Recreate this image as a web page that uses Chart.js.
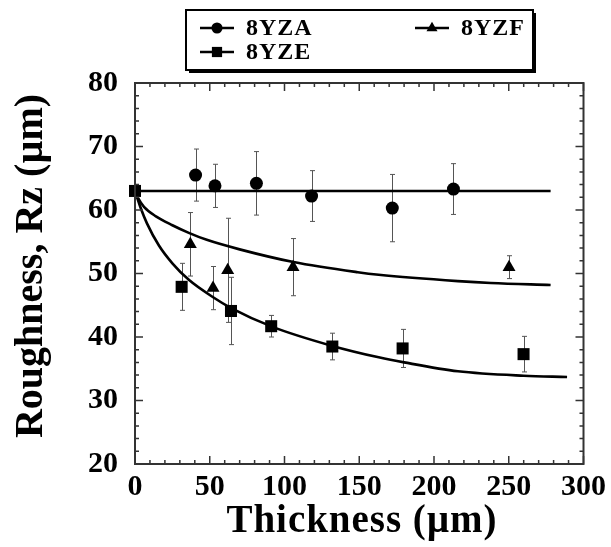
<!DOCTYPE html>
<html lang="en">
<head>
<meta charset="UTF-8">
<title>Roughness vs Thickness</title>
<script src="https://cdn.jsdelivr.net/npm/chart.js@4.4.0/dist/chart.umd.min.js"></script>
<style>
    * { margin: 0; padding: 0; box-sizing: border-box; }
    body { background: #fff; width: 611px; height: 547px; overflow: hidden; }
    #wrap { position: relative; width: 611px; height: 547px; }
</style>
</head>
<body>
<div id="wrap"><canvas id="chart"></canvas></div>
<script>
const SERIF = "'Liberation Serif', 'Times New Roman', serif";

// axis ticks
const xTicks = [0, 50, 100, 150, 200, 250, 300];
const yTicks = [20, 30, 40, 50, 60, 70, 80];
const xMinorStep = 10;
const yMinorStep = 2;

// measured points: thickness (um), Rz (um), half height of error bar
const zaX = [40.5, 53.5, 81.2, 118.1, 172.1, 213.0];
const zaY = [65.5, 63.8, 64.2, 62.2, 60.3, 63.3];
const zaErr = [4.1, 3.4, 5.0, 4.0, 5.3, 4.0];

const zeX = [0, 31.2, 64.2, 91.1, 132.0, 179.0, 259.9];
const zeY = [63.0, 47.9, 44.1, 41.7, 38.5, 38.2, 37.3];
const zeErr = [0, 3.7, 5.3, 1.7, 2.1, 3.0, 2.8];

const zfX = [37.0, 52.2, 62.0, 105.7, 250.2];
const zfY = [54.6, 47.7, 50.5, 51.0, 51.0];
const zfErr = [5.0, 3.4, 8.2, 4.5, 1.8];

// fitted curves
const zaFitX = [0, 278];
const zaFitY = [63.0, 63.0];
const zeFitX = [0, 4, 8, 16, 25, 36, 52, 64, 92, 132, 163, 180, 216, 260, 289];
const zeFitY = [63.0, 60.2, 57.9, 54.4, 51.6, 49.0, 46.3, 44.6, 41.6, 38.6, 36.8, 36.0, 34.6, 33.9, 33.7];
const zfFitX = [0, 2, 6, 14, 25, 36, 48, 70, 106, 149, 163, 216, 238, 278];
const zfFitY = [63.0, 61.9, 60.5, 59.0, 57.6, 56.4, 55.3, 53.8, 51.8, 50.2, 49.8, 48.8, 48.5, 48.2];

const pts = (xs, ys) => xs.map((x, i) => ({ x: x, y: ys[i] }));

const markerSets = [
    { label: '8YZA', data: pts(zaX, zaY), err: zaErr, pointStyle: 'circle', pointRadius: 6.5 },
    { label: '8YZE', data: pts(zeX, zeY), err: zeErr, pointStyle: 'rect', pointRadius: 8.5 },
    { label: '8YZF', data: pts(zfX, zfY), err: zfErr, pointStyle: 'triangle', pointRadius: 7.5 }
];

const fitSets = [
    { data: pts(zaFitX, zaFitY) },
    { data: pts(zeFitX, zeFitY) },
    { data: pts(zfFitX, zfFitY) }
];

const datasets = [];
fitSets.forEach(f => datasets.push({
    type: 'line',
    data: f.data,
    borderColor: '#000',
    borderWidth: 2.6,
    pointRadius: 0,
    cubicInterpolationMode: 'monotone',
    fill: false,
    clip: false,
    order: 2
}));
markerSets.forEach(m => datasets.push({
    type: 'scatter',
    label: m.label,
    data: m.data,
    err: m.err,
    pointStyle: m.pointStyle,
    pointRadius: m.pointRadius,
    pointHoverRadius: m.pointRadius,
    backgroundColor: '#000',
    borderColor: '#000',
    borderWidth: 0,
    clip: false,
    order: 1
}));

// error bars under the markers
const errorBars = {
    id: 'errorBars',
    beforeDatasetsDraw(chart) {
        const ctx = chart.ctx, xs = chart.scales.x, ys = chart.scales.y;
        ctx.save();
        ctx.strokeStyle = '#555';
        ctx.lineWidth = 1;
        chart.data.datasets.forEach(ds => {
            if (!ds.err) return;
            ds.data.forEach((p, i) => {
                const e = ds.err[i];
                if (!e) return;
                const px = Math.round(xs.getPixelForValue(p.x)) + 0.5;
                const top = ys.getPixelForValue(p.y + e);
                const bot = ys.getPixelForValue(p.y - e);
                ctx.beginPath();
                ctx.moveTo(px, top); ctx.lineTo(px, bot);
                ctx.moveTo(px - 2.5, top); ctx.lineTo(px + 2.5, top);
                ctx.moveTo(px - 2.5, bot); ctx.lineTo(px + 2.5, bot);
                ctx.stroke();
            });
        });
        ctx.restore();
    }
};

// box frame with inward ticks on all four sides, axis titles, legend
const frame = {
    id: 'frame',
    afterDraw(chart) {
        const ctx = chart.ctx, xs = chart.scales.x, ys = chart.scales.y;
        const a = chart.chartArea;
        ctx.save();
        ctx.strokeStyle = '#333';
        ctx.lineWidth = 1.5;
        for (let v = xTicks[0]; v <= xTicks[xTicks.length - 1]; v += xMinorStep) {
            const px = xs.getPixelForValue(v);
            const len = xTicks.includes(v) ? 8 : 4;
            ctx.beginPath();
            ctx.moveTo(px, a.bottom); ctx.lineTo(px, a.bottom - len);
            ctx.moveTo(px, a.top); ctx.lineTo(px, a.top + len);
            ctx.stroke();
        }
        for (let v = yTicks[0]; v <= yTicks[yTicks.length - 1]; v += yMinorStep) {
            const py = ys.getPixelForValue(v);
            const len = yTicks.includes(v) ? 8 : 4;
            ctx.beginPath();
            ctx.moveTo(a.left, py); ctx.lineTo(a.left + len, py);
            ctx.moveTo(a.right, py); ctx.lineTo(a.right - len, py);
            ctx.stroke();
        }
        ctx.lineWidth = 2;
        ctx.strokeRect(a.left, a.top, a.right - a.left, a.bottom - a.top);

        // axis titles
        ctx.fillStyle = '#000';
        ctx.textAlign = 'center';
        ctx.textBaseline = 'alphabetic';
        ctx.font = 'bold 39px ' + SERIF;
        const xt = 'Thickness (\u00b5m)';
        ctx.letterSpacing = '0px';
        const w = ctx.measureText(xt).width;
        ctx.letterSpacing = Math.max(0, (271 - w) / xt.length) + 'px';
        ctx.fillText(xt, 362, 532);
        ctx.letterSpacing = '0px';
        ctx.save();
        ctx.translate(42, 266);
        ctx.rotate(-Math.PI / 2);
        ctx.font = 'bold 40px ' + SERIF;
        ctx.fillText('Roughness, Rz (\u00b5m)', 0, 0);
        ctx.restore();

        // legend box with drop shadow
        ctx.fillStyle = '#000';
        ctx.fillRect(189, 13, 347, 60);
        ctx.fillStyle = '#fff';
        ctx.fillRect(186, 10, 347, 60);
        ctx.lineWidth = 2;
        ctx.strokeStyle = '#000';
        ctx.strokeRect(186, 10, 347, 60);
        const slots = [[200, 28], [200, 52], [415, 28]];
        ctx.font = 'bold 24px ' + SERIF;
        ctx.letterSpacing = '1px';
        ctx.textAlign = 'left';
        ctx.textBaseline = 'middle';
        markerSets.forEach((m, i) => {
            const [lx, ly] = slots[i];
            ctx.strokeStyle = '#000';
            ctx.lineWidth = 2.6;
            ctx.beginPath();
            ctx.moveTo(lx, ly); ctx.lineTo(lx + 34, ly);
            ctx.stroke();
            ctx.fillStyle = '#000';
            Chart.helpers.drawPoint(ctx, { pointStyle: m.pointStyle, radius: m.pointRadius * 0.85, borderWidth: 0 }, lx + 17, ly);
            ctx.fillText(m.label, lx + 46, ly + 1);
        });
        ctx.restore();
    }
};

const tickFont = { family: SERIF, size: 30, weight: 'bold' };

new Chart(document.getElementById('chart'), {
    data: { datasets: datasets },
    options: {
        responsive: true,
        maintainAspectRatio: false,
        animation: false,
        events: [],
        layout: { padding: { left: 0, top: 83, right: 24, bottom: 0 } },
        scales: {
            x: {
                type: 'linear',
                min: xTicks[0],
                max: xTicks[xTicks.length - 1],
                afterBuildTicks: s => { s.ticks = xTicks.map(v => ({ value: v })); },
                afterFit: s => { s.height = 83; },
                grid: { display: false, drawTicks: false },
                border: { display: false },
                ticks: { color: '#000', font: tickFont, padding: 5, maxRotation: 0 }
            },
            y: {
                type: 'linear',
                min: yTicks[0],
                max: yTicks[yTicks.length - 1],
                afterBuildTicks: s => { s.ticks = yTicks.map(v => ({ value: v })); },
                afterFit: s => { s.width = 135; },
                grid: { display: false, drawTicks: false },
                border: { display: false },
                ticks: { color: '#000', font: tickFont, padding: 17 }
            }
        },
        plugins: {
            legend: { display: false },
            tooltip: { enabled: false }
        }
    },
    plugins: [errorBars, frame]
});
</script>
</body>
</html>
